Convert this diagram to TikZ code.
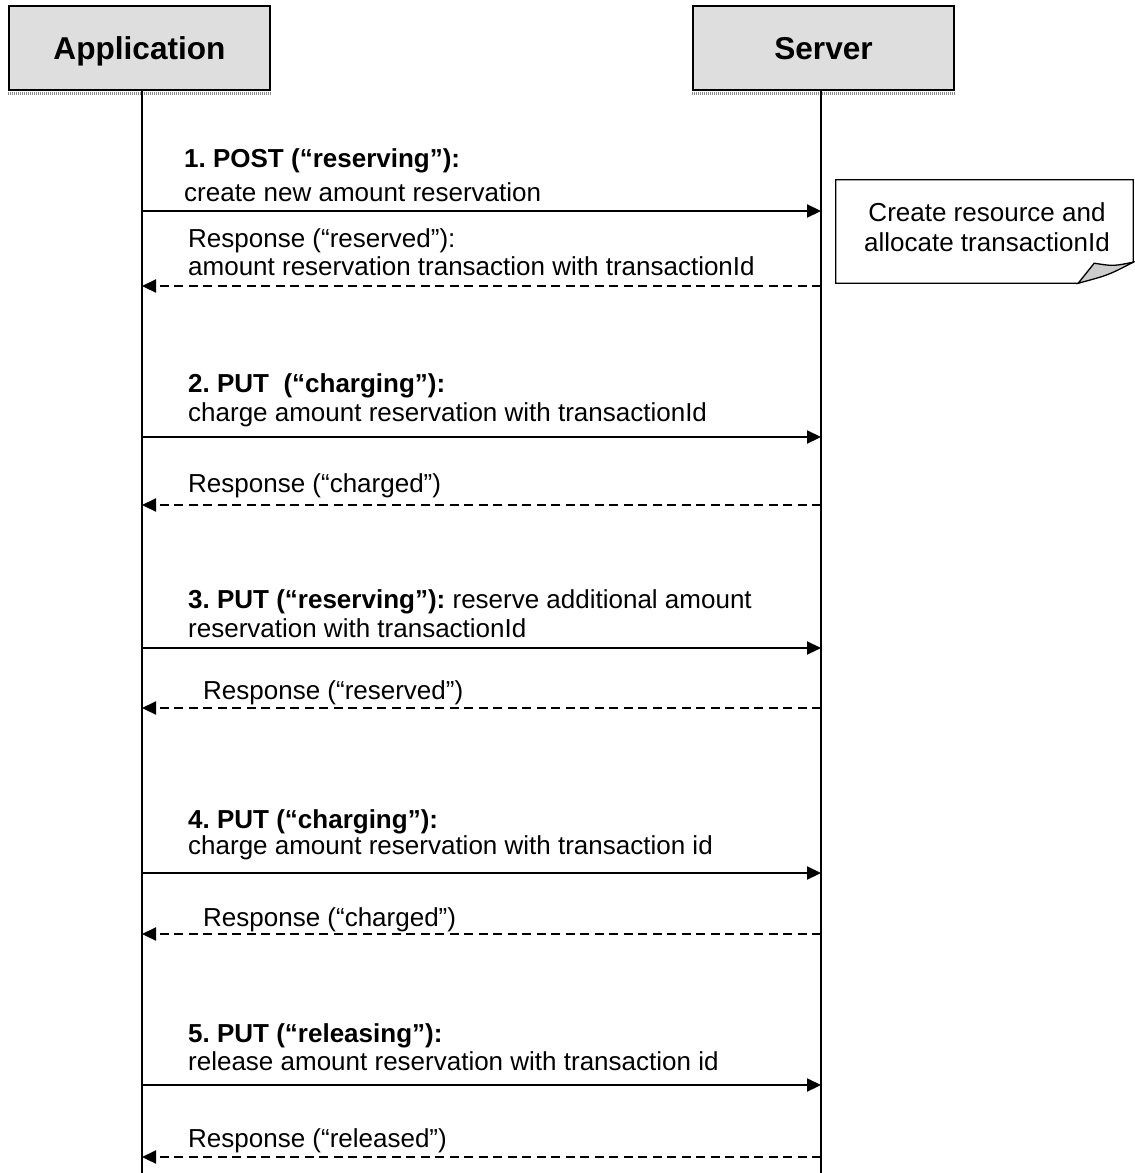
\documentclass[tikz,border=0pt]{standalone}
\usepackage{fontspec}
\setmainfont{Liberation Sans}
\usetikzlibrary{arrows.meta}
\frenchspacing

\begin{document}
\begin{tikzpicture}[
    x=1pt, y=-1pt,
    font=\fontsize{26}{30}\selectfont,
    head/.style={rectangle, draw=black, line width=1.4pt, fill=black!13, minimum width=261pt, minimum height=84pt, text height=30pt, text depth=7.4pt, font=\fontsize{31.6}{36}\selectfont\bfseries},
    life/.style={line width=1.5pt},
    msg/.style={-{Triangle[length=14pt, width=13pt]}, line width=2.2pt},
    reply/.style={msg, dash pattern=on 9pt off 5.5pt},
    lbl/.style={anchor=west, align=left, inner sep=0pt},
    notebox/.style={rectangle, minimum width=297pt, minimum height=103pt, inner sep=0pt}
]

\fill[white] (0,0) rectangle (1135,1173);
\useasboundingbox (0,0) rectangle (1135,1173);

% heads and lifelines
\node[head] (app) at (139.5,48) {Application};
\node[head] (srv) at (823.5,48) {Server};
\draw[line width=3pt, black!45, dash pattern=on 1pt off 1pt] ([yshift=-2.5pt]app.south west) -- ([yshift=-2.5pt]app.south east);
\draw[line width=3pt, black!45, dash pattern=on 1pt off 1pt] ([yshift=-2.5pt]srv.south west) -- ([yshift=-2.5pt]srv.south east);

\coordinate (append) at (142,1173);
\coordinate (srvend) at (821,1173);
\draw[life] (app.south -| append) -- (append);
\draw[life] (srv.south -| srvend) -- (srvend);

\foreach \n/\y in {1/211, 2/437, 3/648, 4/873, 5/1085}{
  \coordinate (am\n) at (142,\y);
  \coordinate (sm\n) at (821,\y);
}
\foreach \n/\y in {1/286, 2/505, 3/708, 4/934, 5/1157}{
  \coordinate (ar\n) at (142,\y);
  \coordinate (sr\n) at (821,\y);
}

% 1
\node[lbl, font=\fontsize{26}{34}\selectfont] (msg1) at (184,175) {\textbf{1. POST (“reserving”):}\\create new amount reservation};
\draw[msg] (am1) -- (sm1);
\node[lbl, font=\fontsize{26}{28}\selectfont] (rsp1) at (188,252) {Response (“reserved”):\\amount reservation transaction with transactionId};
\draw[reply] (sr1) -- (ar1);

\node[notebox] (note) at (984.5,231.5) {};
\draw[line width=1.3pt] (note.north west) -- (note.north east) -- ([yshift=21pt]note.south east)
  -- ([xshift=-55pt]note.south east) -- (note.south west) -- cycle;
\filldraw[fill=black!20, line width=1.3pt] ([xshift=-55pt]note.south east) -- ([xshift=-39pt, yshift=20pt]note.south east)
  .. controls ([xshift=-20pt, yshift=17pt]note.south east) .. ([yshift=21pt]note.south east)
  .. controls ([xshift=-25pt, yshift=8pt]note.south east) .. cycle;
\node[align=center, inner sep=0pt] (notetxt) at (987,227) {Create resource and\\allocate transactionId};

% 2
\node[lbl, font=\fontsize{26}{29}\selectfont] (msg2) at (188,400.5) {\textbf{2. PUT\ \ (“charging”):}\\charge amount reservation with transactionId};
\draw[msg] (am2) -- (sm2);
\node[lbl] (rsp2) at (188,486) {Response (“charged”)};
\draw[reply] (sr2) -- (ar2);

% 3
\node[lbl, font=\fontsize{26}{29}\selectfont] (msg3) at (188,613.5) {\textbf{3. PUT (“reserving”):} reserve additional amount\\reservation with transactionId};
\draw[msg] (am3) -- (sm3);
\node[lbl] (rsp3) at (203,693) {Response (“reserved”)};
\draw[reply] (sr3) -- (ar3);

% 4
\node[lbl, font=\fontsize{26}{26}\selectfont] (msg4) at (188,835) {\textbf{4. PUT (“charging”):}\\charge amount reservation with transaction id};
\draw[msg] (am4) -- (sm4);
\node[lbl] (rsp4) at (203,920) {Response (“charged”)};
\draw[reply] (sr4) -- (ar4);

% 5
\node[lbl, font=\fontsize{26}{28}\selectfont] (msg5) at (188,1047) {\textbf{5. PUT (“releasing”):}\\release amount reservation with transaction id};
\draw[msg] (am5) -- (sm5);
\node[lbl] (rsp5) at (188,1141) {Response (“released”)};
\draw[reply] (sr5) -- (ar5);

\end{tikzpicture}
\end{document}
